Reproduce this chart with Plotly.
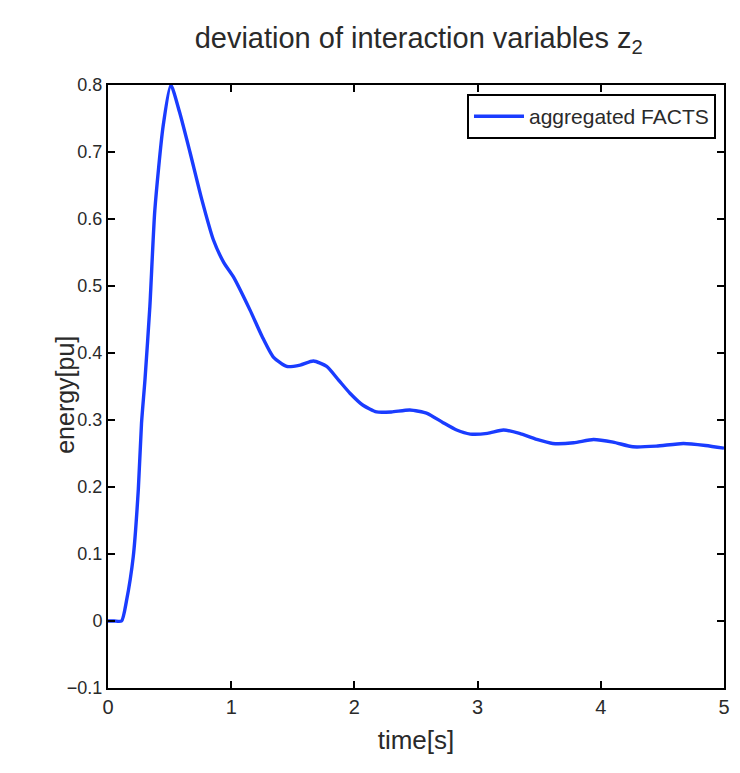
import plotly.graph_objects as go

# time [s] and energy [pu]
time_s = [0.0, 0.05, 0.11, 0.15, 0.205, 0.246, 0.272, 0.30, 0.34, 0.38, 0.447, 0.51,
          0.58, 0.665, 0.76, 0.855, 0.94, 1.017, 1.153, 1.25, 1.342, 1.45, 1.56, 1.667,
          1.775, 1.87, 1.964, 2.07, 2.18, 2.3, 2.45, 2.59, 2.72, 2.83, 2.94, 3.08, 3.21,
          3.34, 3.48, 3.61, 3.78, 3.94, 4.1, 4.26, 4.45, 4.67, 4.85, 5.0]
energy_pu = [0.0, 0.0, 0.0, 0.03, 0.096, 0.196, 0.295, 0.36, 0.47, 0.613, 0.738, 0.80,
             0.76, 0.70, 0.63, 0.569, 0.535, 0.514, 0.464, 0.425, 0.394, 0.380, 0.382, 0.388,
             0.380, 0.360, 0.340, 0.322, 0.312, 0.312, 0.315, 0.310, 0.296, 0.285, 0.279, 0.280, 0.285,
             0.280, 0.271, 0.265, 0.266, 0.271, 0.267, 0.260, 0.261, 0.265, 0.262, 0.258]

x_ticks = [0, 1, 2, 3, 4, 5]
y_ticks = [-0.1, 0, 0.1, 0.2, 0.3, 0.4, 0.5, 0.6, 0.7, 0.8]
y_labels = ["\u22120.1", "0", "0.1", "0.2", "0.3", "0.4", "0.5", "0.6", "0.7", "0.8"]

FONT = "Liberation Sans Narrow, Arial Narrow, Liberation Sans, Arial, sans-serif"
TXT = "#2a2a2a"

fig = go.Figure()
fig.add_trace(go.Scatter(
    x=time_s, y=energy_pu,
    mode="lines",
    line=dict(color="#1a3cff", width=3.4, shape="spline", smoothing=0.6),
    name="aggregated FACTS",
))

axis_common = dict(
    showline=True, linecolor="black", linewidth=2, mirror="ticks",
    ticks="inside", ticklen=7, tickwidth=2, tickcolor="black",
    showgrid=False, zeroline=False,
)
fig.update_xaxes(range=[0, 5], tickvals=x_ticks,
                 tickfont=dict(family=FONT, size=20, color=TXT),
                 title=dict(text="time[s]", font=dict(family=FONT, size=26, color=TXT), standoff=14),
                 **axis_common)
fig.update_yaxes(range=[-0.1, 0.8], tickvals=y_ticks, ticktext=y_labels,
                 tickfont=dict(family=FONT, size=18, color=TXT),
                 **axis_common)

# y-axis title placed closer to the tick labels, as in the reference
fig.add_annotation(
    text="energy[pu]", xref="paper", yref="paper",
    x=-0.07, y=0.486, xanchor="center", yanchor="middle",
    textangle=-90, showarrow=False,
    font=dict(family=FONT, size=25, color=TXT),
)

fig.update_layout(
    width=740, height=773,
    paper_bgcolor="white", plot_bgcolor="white",
    margin=dict(l=100, r=24, t=77, b=93),
    title=dict(text="deviation of interaction variables z<sub>2</sub>",
               font=dict(family=FONT, size=29, color=TXT),
               x=0.555, xanchor="center", y=0.961, yanchor="middle"),
    legend=dict(x=0.987, y=0.985, xanchor="right", yanchor="top",
                bordercolor="black", borderwidth=2, bgcolor="white",
                font=dict(family=FONT, size=21, color=TXT),
                itemwidth=50, tracegroupgap=0),
    showlegend=True,
)

fig.write_html("out.html")
